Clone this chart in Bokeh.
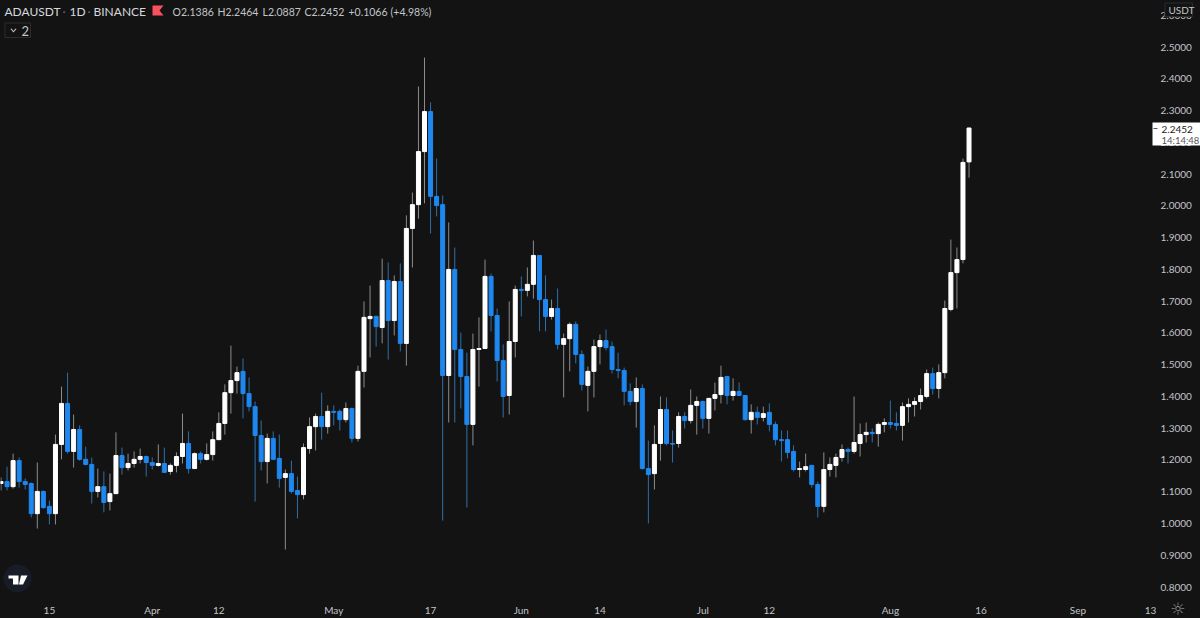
import numpy as np
from bokeh.plotting import figure
from bokeh.models import (ColumnDataSource, Range1d, FixedTicker, Label, PolyAnnotation,
                          GlobalInlineStyleSheet)
from bokeh.embed import file_html
from bokeh.resources import INLINE

opens = [1.126,1.132,1.116,1.198,1.132,1.126,1.031,1.101,1.054,1.031,
 1.249,1.378,1.227,1.296,1.202,1.186,1.101,1.116,1.069,1.094,
 1.214,1.176,1.189,1.202,1.211,1.192,1.183,1.189,1.164,1.183,
 1.211,1.252,1.173,1.220,1.202,1.217,1.264,1.315,1.412,1.450,
 1.479,1.409,1.368,1.277,1.195,1.268,1.205,1.145,1.157,1.104,
 1.091,1.236,1.305,1.337,1.305,1.353,1.353,1.327,1.362,1.268,
 1.479,1.645,1.652,1.617,1.765,1.639,1.762,1.567,1.929,2.004,
 2.171,2.297,2.030,2.004,1.466,1.800,1.548,1.463,1.312,1.548,
 1.551,1.778,1.655,1.513,1.403,1.573,1.737,1.734,1.753,1.844,
 1.705,1.652,1.677,1.564,1.582,1.627,1.532,1.435,1.479,1.557,
 1.576,1.557,1.485,1.482,1.416,1.384,1.425,1.173,1.157,1.252,
 1.359,1.252,1.252,1.337,1.324,1.372,1.384,1.331,1.394,1.406,
 1.463,1.403,1.416,1.403,1.327,1.350,1.334,1.350,1.312,1.264,
 1.264,1.227,1.170,1.170,1.183,1.123,1.054,1.170,1.183,1.208,
 1.233,1.227,1.252,1.280,1.287,1.283,1.312,1.318,1.315,1.309,
 1.368,1.375,1.384,1.400,1.472,1.425,1.475,1.674,1.790,1.831,
 2.1386]
highs = [1.145,1.179,1.220,1.208,1.142,1.129,1.192,1.104,1.072,1.280,
 1.431,1.475,1.343,1.309,1.242,1.208,1.173,1.164,1.157,1.287,
 1.239,1.220,1.227,1.236,1.214,1.208,1.249,1.239,1.189,1.224,
 1.346,1.290,1.224,1.227,1.252,1.290,1.350,1.438,1.560,1.494,
 1.520,1.460,1.384,1.324,1.283,1.290,1.280,1.170,1.198,1.148,
 1.252,1.334,1.346,1.412,1.372,1.372,1.359,1.381,1.365,1.497,
 1.699,1.749,1.655,1.834,1.822,1.781,1.819,1.970,2.042,2.376,
 2.467,2.326,2.149,2.033,1.948,1.869,1.601,1.538,1.598,1.649,
 1.831,1.787,1.677,1.564,1.699,1.749,1.778,1.806,1.891,1.844,
 1.781,1.705,1.740,1.598,1.633,1.636,1.545,1.494,1.579,1.595,
 1.611,1.573,1.538,1.491,1.441,1.460,1.438,1.261,1.309,1.400,
 1.397,1.293,1.350,1.350,1.422,1.400,1.387,1.394,1.444,1.497,
 1.463,1.457,1.444,1.403,1.375,1.368,1.368,1.378,1.321,1.293,
 1.293,1.246,1.195,1.220,1.183,1.132,1.224,1.208,1.220,1.249,
 1.239,1.400,1.315,1.318,1.299,1.318,1.331,1.387,1.350,1.381,
 1.394,1.397,1.425,1.485,1.491,1.501,1.702,1.894,1.869,2.149,
 2.2464]
lows = [1.104,1.104,1.110,1.113,1.107,1.019,0.984,1.047,0.997,0.997,
 1.202,1.220,1.176,1.198,1.183,1.063,1.082,1.035,1.041,1.094,
 1.154,1.167,1.176,1.189,1.148,1.170,1.179,1.161,1.154,1.161,
 1.189,1.157,1.173,1.189,1.198,1.198,1.264,1.280,1.346,1.409,
 1.331,1.353,1.069,1.167,1.126,1.202,1.113,0.918,1.094,1.016,
 1.076,1.220,1.230,1.264,1.283,1.309,1.293,1.318,1.255,1.258,
 1.428,1.523,1.557,1.567,1.516,1.592,1.542,1.497,1.806,1.960,
 2.008,1.913,1.967,1.009,1.318,1.318,1.362,1.050,1.246,1.431,
 1.551,1.605,1.447,1.334,1.343,1.523,1.652,1.715,1.708,1.605,
 1.605,1.642,1.548,1.397,1.479,1.504,1.419,1.353,1.397,1.501,
 1.545,1.472,1.457,1.372,1.372,1.302,1.170,1.000,1.107,1.198,
 1.246,1.192,1.239,1.299,1.315,1.280,1.299,1.283,1.356,1.378,
 1.375,1.387,1.403,1.324,1.283,1.312,1.321,1.290,1.246,1.195,
 1.205,1.164,1.145,1.164,1.113,1.019,1.035,1.148,1.145,1.195,
 1.189,1.220,1.211,1.255,1.255,1.242,1.287,1.299,1.293,1.261,
 1.318,1.337,1.359,1.394,1.406,1.394,1.457,1.668,1.677,1.819,
 2.0887]
closes = [1.132,1.116,1.198,1.132,1.123,1.031,1.101,1.050,1.031,1.249,
 1.378,1.227,1.296,1.202,1.186,1.101,1.116,1.066,1.094,1.214,
 1.176,1.189,1.202,1.211,1.192,1.183,1.189,1.161,1.183,1.211,
 1.252,1.173,1.220,1.202,1.217,1.264,1.315,1.412,1.450,1.475,
 1.409,1.368,1.277,1.195,1.268,1.202,1.142,1.157,1.101,1.091,
 1.239,1.305,1.337,1.305,1.353,1.350,1.327,1.362,1.268,1.479,
 1.649,1.652,1.620,1.765,1.639,1.762,1.567,1.929,2.004,2.171,
 2.297,2.030,2.001,1.466,1.800,1.548,1.463,1.312,1.548,1.551,
 1.778,1.655,1.513,1.400,1.573,1.737,1.734,1.753,1.844,1.705,
 1.652,1.677,1.564,1.582,1.627,1.532,1.438,1.479,1.557,1.576,
 1.554,1.485,1.482,1.416,1.384,1.425,1.173,1.154,1.249,1.359,
 1.252,1.250,1.337,1.324,1.372,1.384,1.331,1.394,1.406,1.460,
 1.403,1.416,1.403,1.327,1.350,1.334,1.346,1.312,1.264,1.261,
 1.224,1.170,1.173,1.179,1.123,1.054,1.170,1.186,1.208,1.233,
 1.227,1.255,1.280,1.287,1.283,1.312,1.318,1.312,1.309,1.368,
 1.375,1.384,1.403,1.472,1.425,1.475,1.677,1.790,1.831,2.137,
 2.2452]
tick_days = [8, 25, 36, 55, 71, 86, 99, 116, 127, 147, 162, 178, 190]
tick_names = ["15", "Apr", "12", "May", "17", "Jun", "14", "Jul", "12", "Aug", "16", "Sep", "13"]
price_ticks = [0.8, 0.9, 1.0, 1.1, 1.2, 1.3, 1.4, 1.5, 1.6, 1.7, 1.8, 1.9, 2.0, 2.1, 2.2, 2.3, 2.4, 2.5, 2.6]

BG = "#131313"
UP = "#FFFFFF"
DOWN = "#1E88F0"
UP_WICK = "#8C8C8C"
DOWN_WICK = "#2F6FA8"
TEXT = "#C2C4C8"

days = np.arange(len(opens))
o, h, l, c = map(np.array, (opens, highs, lows, closes))
rising = c >= o
source = ColumnDataSource(dict(
    day=days, high=h, low=l,
    top=np.maximum(o, c), bottom=np.minimum(o, c),
    body=[UP if r else DOWN for r in rising],
    wick=[UP_WICK if r else DOWN_WICK for r in rising]))

W, H = 1200, 618
p = figure(width=W, height=H, output_backend="svg", toolbar_location=None,
           x_range=Range1d(-0.083, 198.26), y_range=Range1d(0.7009, 2.6467),
           y_axis_location="right", background_fill_color=BG, border_fill_color=BG,
           min_border=0, outline_line_color=None)
p.stylesheets = [GlobalInlineStyleSheet(css="html,body{background:%s}" % BG)]
p.grid.visible = False

p.segment(x0="day", x1="day", y0="low", y1="high", color="wick", line_width=1, source=source)
p.vbar(x="day", top="top", bottom="bottom", width=0.66, fill_color="body", line_color="body",
       line_width=1, line_join="miter", source=source)

xa, ya = p.xaxis[0], p.yaxis[0]
xa.fixed_location = 0.7733
ya.fixed_location = 190.33
xa.ticker = FixedTicker(ticks=tick_days)
xa.major_label_overrides = {d: n for d, n in zip(tick_days, tick_names)}
ya.ticker = FixedTicker(ticks=price_ticks)
ya.major_label_overrides = {t: f"{t:.4f}" for t in price_ticks}
for ax in (xa, ya):
    ax.axis_line_color = None
    ax.major_tick_line_color = None
    ax.minor_tick_line_color = None
    ax.major_tick_out = 0
    ax.minor_tick_out = 0
    ax.major_label_text_color = TEXT
    ax.major_label_text_font = "Lato"
    ax.major_label_text_font_size = "10px"
xa.major_label_standoff = 8
ya.major_label_standoff = 8


def text(rx, ry, s, color=TEXT, size="12px", font="Lato", **kw):
    p.add_layout(Label(x=rx, y=H - ry, x_units="screen", y_units="screen", text=s,
                       text_color=color, text_font=font, text_font_size=size,
                       text_baseline="middle", **kw))


def poly(points, fill, line=None, width=1):
    xs, ys = zip(*points)
    p.add_layout(PolyAnnotation(xs=list(xs), ys=[H - v for v in ys],
                                xs_units="screen", ys_units="screen",
                                fill_color=fill, fill_alpha=1,
                                line_color=line, line_width=width, line_alpha=1))


# legend row
for rx, s, col in ((4, "ADAUSDT", "#D6D8DC"), (62, "·", "#6A6C70"), (69, "1D", "#D6D8DC"),
                   (87, "·", "#6A6C70"), (93, "BINANCE", "#D6D8DC")):
    text(rx, 11, s, size="12px", color=col)
poly([(152, 5), (163, 5), (159, 10), (163, 15), (152, 15)], "#F7525F")
for rx, s in ((172, f"O{opens[-1]:.4f}"), (217, f"H{highs[-1]:.4f}"), (262, f"L{lows[-1]:.4f}"),
              (304, f"C{closes[-1]:.4f}"), (348, f"{closes[-1]-opens[-1]:+.4f}"),
              (390, f"({(closes[-1]/opens[-1]-1)*100:+.2f}%)")):
    text(rx, 11, s, size="10.5px")

# collapsed indicators box
poly([(4.5, 22.5), (30, 22.5), (30, 37), (4.5, 37)], BG, line="#2A2C30")
poly([(10, 28.5), (11, 28), (13, 30.5), (15, 28), (16, 28.5), (13, 32)], TEXT)
text(21, 30, "2", size="13px")

# USDT box over the top tick
poly([(1164.5, 2.5), (1192, 2.5), (1192, 16), (1164.5, 16)], BG, line="#2A2C30")
text(1168, 9.5, "USDT", size="10px")

# last price tag
poly([(1152, 122), (1200, 122), (1200, 145), (1152, 145)], "#FFFFFF")
poly([(1153, 127.5), (1157, 127.5), (1157, 128.5), (1153, 128.5)], "#555555")
text(1161, 128.5, f"{closes[-1]:.4f}", color="#222222", size="10px")
text(1161, 139.5, "14:14:48", color="#555555", size="9.5px")

# TradingView badge
ang = np.linspace(0, 2 * np.pi, 48)
poly(list(zip(17 + 14 * np.cos(ang), 578 + 14 * np.sin(ang))), "#181C26")
poly([(8, 575), (18, 575), (18, 584), (12.5, 584), (12.5, 578), (8, 578)], "#FFFFFF")
poly([(20.5, 575), (27, 575), (22.5, 584), (18.5, 584)], "#FFFFFF")

# settings glyph
text(1170, 608, "☼", font="DejaVu Sans", size="17px", color="#8A8A8A")

html = file_html(p, INLINE)
open("out.html", "w").write(html)
